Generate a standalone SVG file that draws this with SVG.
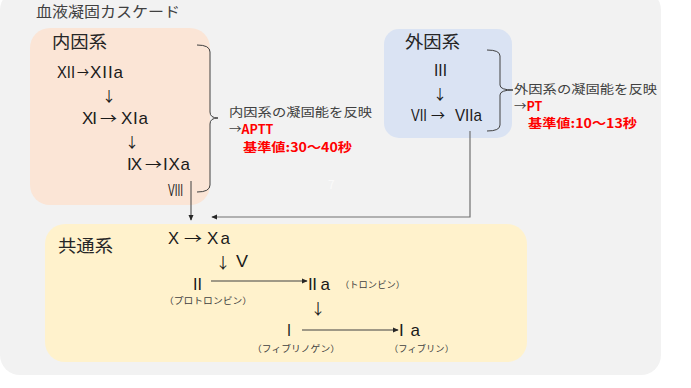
<svg xmlns="http://www.w3.org/2000/svg" width="691" height="388" viewBox="0 0 691 388">
<defs>
<style>
.jp{font-family:"Noto Sans CJK JP","Noto Sans",sans-serif}
.t{font-family:"Liberation Sans","DejaVu Sans",sans-serif;fill:#1a1a1a;font-size:17px}
.a{font-family:"Noto Sans CJK JP","DejaVu Sans",sans-serif;fill:#1a1a1a;font-size:14px}
.h{font-size:17px;fill:#262626}
.s{font-size:9px;fill:#404040}
.c{font-size:12px;fill:#404040}
.r{font-size:12.5px;fill:#ff0000;font-weight:bold}
.ln{fill:none;stroke:#404040;stroke-width:1}
.gl{fill:none;stroke:#707070;stroke-width:1.2}
</style>
<marker id="ah" viewBox="0 0 8 8" refX="7" refY="4" markerWidth="6" markerHeight="6" orient="auto" markerUnits="userSpaceOnUse">
<path d="M0,0.5 L8,4 L0,7.5 z" fill="#262626"/>
</marker>
</defs>
<rect x="0" y="-10" width="661" height="385" rx="20" fill="#f2f2f2"/>
<text class="jp" x="36" y="17" font-size="14.5" fill="#404040" textLength="144" lengthAdjust="spacingAndGlyphs">血液凝固カスケード</text>
<text class="jp" x="328" y="189" font-size="12" fill="#fafafa">7</text>

<g id="intrinsic">
<rect x="30" y="28" width="180" height="177" rx="20" fill="#fbe5d6"/>
<text class="jp h" x="52" y="48" textLength="55" lengthAdjust="spacingAndGlyphs">内因系</text>
<text class="t" x="57" y="78" textLength="18" lengthAdjust="spacingAndGlyphs">XII</text>
<text class="a" x="77" y="77" textLength="12" lengthAdjust="spacingAndGlyphs">→</text>
<text class="t" x="90" y="78" textLength="33" lengthAdjust="spacing">XIIa</text>
<text class="a" x="109" y="101" text-anchor="middle">↓</text>
<text class="t" x="82" y="124" textLength="15" lengthAdjust="spacing">XI</text>
<text class="a" x="100" y="123" textLength="17" lengthAdjust="spacingAndGlyphs">→</text>
<text class="t" x="121" y="124" textLength="27" lengthAdjust="spacing">XIa</text>
<text class="a" x="132" y="147" text-anchor="middle">↓</text>
<text class="t" x="127" y="170" textLength="15" lengthAdjust="spacing">IX</text>
<text class="a" x="145" y="169" textLength="17" lengthAdjust="spacingAndGlyphs">→</text>
<text class="t" x="163" y="170" textLength="27" lengthAdjust="spacing">IXa</text>
<text class="t" x="168" y="196" style="font-size:16px" textLength="15" lengthAdjust="spacingAndGlyphs">VIII</text>
</g>

<g id="intrinsic-note">
<path class="ln" d="M197,45 Q210,45 210,52 L210,112 Q210,118 218,118 Q210,118 210,124 L210,185 Q210,192 197,192"/>
<text class="jp c" x="229" y="117" textLength="143" lengthAdjust="spacingAndGlyphs">内因系の凝固能を反映</text>
<text class="jp" x="229" y="134" font-size="12.5" fill="#404040">→<tspan fill="#ff0000" font-weight="bold">APTT</tspan></text>
<text class="jp r" x="243" y="152" textLength="109" lengthAdjust="spacingAndGlyphs">基準値:30〜40秒</text>
</g>

<g id="extrinsic">
<rect x="384" y="29" width="128" height="109" rx="15" fill="#dae3f3"/>
<text class="jp h" x="405" y="48" textLength="55" lengthAdjust="spacingAndGlyphs">外因系</text>
<text class="t" x="434" y="76" textLength="13" lengthAdjust="spacingAndGlyphs">III</text>
<text class="a" x="440" y="99" text-anchor="middle">↓</text>
<text class="t" x="411" y="121" textLength="16" lengthAdjust="spacingAndGlyphs">VII</text>
<text class="a" x="431" y="120" textLength="14" lengthAdjust="spacingAndGlyphs">→</text>
<text class="t" x="455" y="121" textLength="27" lengthAdjust="spacingAndGlyphs">VIIa</text>
</g>

<g id="extrinsic-note">
<path class="ln" d="M487,50 Q500,50 500,56 L500,85 Q500,90 513,90 Q500,90 500,95 L500,125 Q500,131 487,131"/>
<text class="jp c" x="514" y="94" textLength="143" lengthAdjust="spacingAndGlyphs">外因系の凝固能を反映</text>
<text class="jp" x="514" y="111" font-size="12.5" fill="#404040">→<tspan fill="#ff0000" font-weight="bold">PT</tspan></text>
<text class="jp r" x="528" y="128" textLength="109" lengthAdjust="spacingAndGlyphs">基準値:10〜13秒</text>
</g>

<g id="common">
<rect x="45" y="224" width="482" height="138" rx="20" fill="#fff2cc"/>
<text class="jp h" x="58" y="252" textLength="55" lengthAdjust="spacingAndGlyphs">共通系</text>
<text class="t" x="168" y="244" textLength="11" lengthAdjust="spacingAndGlyphs">X</text>
<text class="a" x="184" y="243" fill="#7f7f7f" textLength="18" lengthAdjust="spacingAndGlyphs">→</text>
<text class="t" x="207" y="244" textLength="23" lengthAdjust="spacing">X a</text>
<text class="a" x="223" y="268" text-anchor="middle" style="font-size:15px">↓</text>
<text class="t" x="236" y="267" textLength="12" lengthAdjust="spacingAndGlyphs">V</text>
<text class="t" x="193" y="290" textLength="9" lengthAdjust="spacingAndGlyphs">II</text>
<text class="t" x="308" y="290" textLength="22" lengthAdjust="spacing">II a</text>
<text class="jp s" x="340" y="288" textLength="65" lengthAdjust="spacingAndGlyphs">（トロンビン）</text>
<text class="jp s" x="164" y="304" textLength="88" lengthAdjust="spacingAndGlyphs">（プロトロンビン）</text>
<text class="a" x="318" y="314" text-anchor="middle" style="font-size:15px">↓</text>
<text class="t" x="287" y="336" textLength="4" lengthAdjust="spacingAndGlyphs">I</text>
<text class="t" x="399" y="336" textLength="21" lengthAdjust="spacing">I a</text>
<text class="jp s" x="252" y="352" textLength="88" lengthAdjust="spacingAndGlyphs">（フィブリノゲン）</text>
<text class="jp s" x="389" y="352" textLength="65" lengthAdjust="spacingAndGlyphs">（フィブリン）</text>
</g>

<g id="connectors">
<path class="ln" d="M191,181 L191,220" marker-end="url(#ah)"/>
<path class="gl" d="M470,131 L470,217 L212,217" marker-end="url(#ah)"/>
<path class="ln" d="M211,281 L307,281" marker-end="url(#ah)"/>
<path class="ln" d="M302,330 L398,330" marker-end="url(#ah)"/>
</g>
</svg>
